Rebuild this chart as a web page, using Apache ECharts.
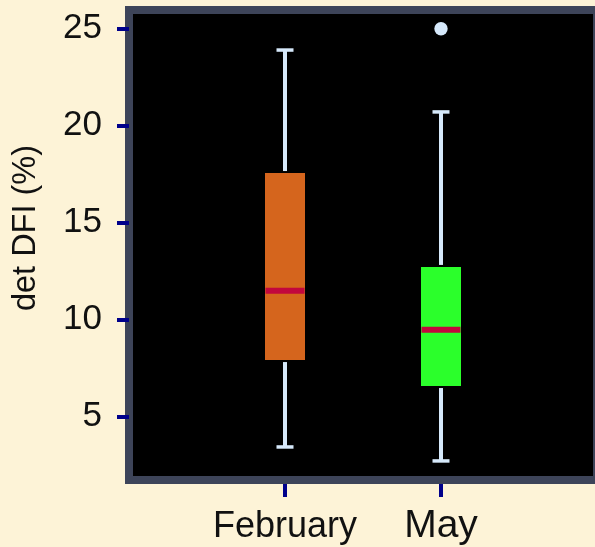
<!DOCTYPE html>
<html>
<head>
<meta charset="utf-8">
<style>
  html, body { margin: 0; padding: 0; background: #fdf3d7; }
  #chart { width: 595px; height: 547px; }
</style>
<script src="https://cdn.jsdelivr.net/npm/echarts@6/dist/echarts.min.js"></script>
</head>
<body>
<div id="chart"></div>
<script>
// ---- data ----
var categories = ['February', 'May'];
var lowerWhisker = [3.44, 2.72];
var q1Values = [7.92, 6.58];
var medianValues = [11.49, 9.48];
var q3Values = [17.56, 12.72];
var upperWhisker = [23.9, 20.71];
var outlierCategory = [2];      // 1-based category position of each outlier
var outlierValues = [25.0];
var yTickValues = [5, 10, 15, 20, 25];
var xTickValues = [1, 2];

// ---- styles ----
var boxColors = ['#d5651d', '#2bff2b'];
var whiskerColor = '#d6e9fb';
var medianColor = '#c2073d';
var tickColor = '#00008b';
var fontFamily = '"Liberation Sans", Arial, sans-serif';

var boxData = categories.map(function (c, i) {
  return [i + 1, lowerWhisker[i], q1Values[i], medianValues[i], q3Values[i], upperWhisker[i], i];
});
var outlierData = outlierValues.map(function (v, i) { return [outlierCategory[i], v]; });

var chart = echarts.init(document.getElementById('chart'), null, { renderer: 'canvas' });

var option = {
  backgroundColor: '#fdf3d7',
  animation: false,
  grid: {
    left: 129, top: 10, right: -2, bottom: 67,
    show: true,
    backgroundColor: '#000000',
    borderColor: '#3d4459',
    borderWidth: 8,
    containLabel: false,
    outerBoundsMode: 'none'
  },
  xAxis: {
    type: 'value',
    min: 0, max: 3,
    offset: 4,
    axisLine: { show: false },
    splitLine: { show: false },
    axisTick: {
      show: true, length: 13, customValues: xTickValues,
      lineStyle: { color: tickColor, width: 4 }
    },
    axisLabel: {
      customValues: xTickValues,
      margin: 22,
      formatter: function (v) {
        var i = Math.round(v) - 1;
        return '{s' + i + '|' + categories[i] + '}';
      },
      rich: {
        s0: { fontSize: 36, fontFamily: fontFamily, color: '#111', padding: [3, 0, 0, 0] },
        s1: { fontSize: 39, fontFamily: fontFamily, color: '#111', padding: [1, 0, 0, 0] }
      }
    }
  },
  yAxis: {
    type: 'value',
    min: 1.737, max: 25.964,
    offset: 4,
    name: 'det DFI (%)',
    nameLocation: 'middle',
    nameRotate: 90,
    nameGap: 82,
    nameTextStyle: { fontSize: 32.5, fontFamily: fontFamily, color: '#111', padding: [0, 0, 0, 34] },
    axisLine: { show: false },
    splitLine: { show: false },
    axisTick: {
      show: true, length: 12, customValues: yTickValues,
      lineStyle: { color: tickColor, width: 4 }
    },
    axisLabel: {
      customValues: yTickValues,
      margin: 23,
      fontSize: 35,
      fontFamily: fontFamily,
      color: '#111'
    }
  },
  series: [
    {
      type: 'custom',
      data: boxData,
      renderItem: function (params, api) {
        var x = api.value(0);
        var pMin = api.coord([x, api.value(1)]);
        var pQ1 = api.coord([x, api.value(2)]);
        var pMed = api.coord([x, api.value(3)]);
        var pQ3 = api.coord([x, api.value(4)]);
        var pMax = api.coord([x, api.value(5)]);
        var ci = api.value(6);
        var cx = pMin[0];
        var halfBox = 20, halfCap = 8.5;
        var wStyle = { stroke: whiskerColor, lineWidth: 4 };
        return {
          type: 'group',
          children: [
            { type: 'line', shape: { x1: cx, y1: pMax[1], x2: cx, y2: pQ3[1] - 2 }, style: wStyle },
            { type: 'line', shape: { x1: cx, y1: pQ1[1] + 2, x2: cx, y2: pMin[1] }, style: wStyle },
            { type: 'line', shape: { x1: cx - halfCap, y1: pMax[1], x2: cx + halfCap, y2: pMax[1] }, style: { stroke: whiskerColor, lineWidth: 3.5 } },
            { type: 'line', shape: { x1: cx - halfCap, y1: pMin[1], x2: cx + halfCap, y2: pMin[1] }, style: { stroke: whiskerColor, lineWidth: 3.5 } },
            { type: 'rect', shape: { x: cx - halfBox, y: pQ3[1], width: halfBox * 2, height: pQ1[1] - pQ3[1] }, style: { fill: boxColors[ci] } },
            { type: 'line', shape: { x1: cx - halfBox + 0.5, y1: pMed[1], x2: cx + halfBox - 0.5, y2: pMed[1] }, style: { stroke: medianColor, lineWidth: 6 } }
          ]
        };
      }
    },
    {
      type: 'scatter',
      data: outlierData,
      symbol: 'circle',
      symbolSize: 13.4,
      itemStyle: { color: whiskerColor, opacity: 1 }
    }
  ]
};
chart.setOption(option);
</script>
</body>
</html>
